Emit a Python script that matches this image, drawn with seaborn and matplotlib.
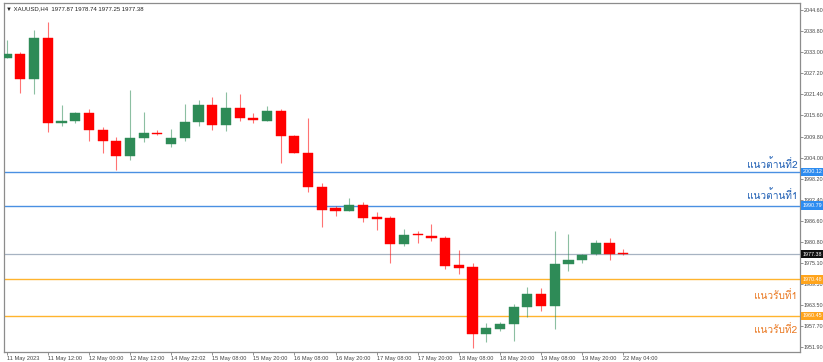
import matplotlib
matplotlib.use('Agg')
import matplotlib.pyplot as plt
import matplotlib.transforms as mtransforms
from matplotlib import font_manager
from matplotlib.ft2font import FT2Font
import numpy as np
import pandas as pd
import seaborn as sns

# XAUUSD H4 candles
opens = [2031.5, 2032.4, 2025.5, 2036.8, 2013.5, 2014.0, 2016.3, 2011.5, 2008.7, 2004.5,
         2009.4, 2010.9, 2007.8, 2009.4, 2013.8, 2018.4, 2013.0, 2017.6, 2015.0, 2014.2,
         2016.8, 2009.9, 2005.3, 1995.8, 1990.0, 1989.4, 1991.0, 1987.7, 1987.3, 1980.2,
         1982.9, 1982.4, 1982.0, 1974.4, 1973.9, 1955.6, 1956.8, 1958.1, 1962.9, 1966.5,
         1963.3, 1974.6, 1975.8, 1977.6, 1980.6, 1977.87]
highs = [2036.3, 2033.1, 2039.1, 2041.4, 2018.4, 2016.5, 2017.5, 2012.4, 2009.8, 2022.5,
         2016.5, 2011.5, 2011.9, 2018.8, 2019.9, 2020.8, 2022.0, 2021.4, 2016.3, 2018.2,
         2017.5, 2010.1, 2014.9, 1996.9, 1990.7, 1992.9, 1991.9, 1988.9, 1988.0, 1984.3,
         1983.8, 1985.8, 1982.4, 1978.6, 1974.9, 1958.5, 1958.8, 1963.6, 1968.4, 1968.0,
         1983.8, 1982.9, 1977.6, 1981.3, 1982.0, 1978.74]
lows = [2031.3, 2021.8, 2021.6, 2011.0, 2012.6, 2013.6, 2008.5, 2005.3, 2000.6, 2003.4,
        2008.2, 2010.1, 2007.0, 2008.5, 2012.8, 2011.7, 2011.3, 2014.2, 2013.5, 2014.0,
        2002.4, 2005.2, 1994.4, 1985.0, 1988.0, 1989.2, 1986.4, 1984.0, 1975.0, 1979.7,
        1980.6, 1981.1, 1973.3, 1971.9, 1951.6, 1953.4, 1956.2, 1953.6, 1960.1, 1961.9,
        1956.8, 1972.8, 1975.1, 1977.2, 1975.8, 1977.25]
closes = [2032.4, 2025.5, 2036.8, 2013.5, 2014.2, 2016.3, 2011.5, 2008.5, 2004.5, 2009.4,
          2010.8, 2010.4, 2009.4, 2013.9, 2018.4, 2013.0, 2017.6, 2014.9, 2014.3, 2016.8,
          2009.9, 2005.3, 1995.8, 1989.6, 1989.4, 1991.0, 1987.5, 1987.1, 1980.1, 1982.7,
          1982.6, 1982.0, 1974.2, 1973.7, 1955.6, 1957.0, 1958.1, 1962.9, 1966.5, 1963.3,
          1974.6, 1975.8, 1977.2, 1980.6, 1977.6, 1977.38]

time_labels = ['11 May 2023', '11 May 12:00', '12 May 00:00', '12 May 12:00', '14 May 22:02',
               '15 May 08:00', '15 May 20:00', '16 May 08:00', '16 May 20:00', '17 May 08:00',
               '17 May 20:00', '18 May 08:00', '18 May 20:00', '19 May 08:00', '19 May 20:00',
               '22 May 04:00']
price_ticks = [2044.60, 2038.80, 2033.00, 2027.20, 2021.40, 2015.60, 2009.80, 2004.00, 1998.20,
               1992.40, 1986.60, 1980.80, 1975.10, 1969.30, 1963.50, 1957.70, 1951.90]

resistance = [2000.12, 1990.79]
support = [1970.48, 1960.45]
last_price = 1977.38
level_names = ['แนวต้านที่2', 'แนวต้านที่1', 'แนวรับที่1', 'แนวรับที่2']
level_text_y = [2001.2, 1992.6, 1965.1, 1955.7]

sns.set_style('white')


def thai_font():
    for f in font_manager.fontManager.ttflist:
        try:
            if 0x0E41 in FT2Font(f.fname).get_charmap():
                return f.name
        except Exception:
            pass
    return 'DejaVu Sans'


small = ['Liberation Sans', 'DejaVu Sans']
plt.rcParams['font.family'] = small

df = pd.DataFrame({'open': opens, 'high': highs, 'low': lows, 'close': closes})
df['i'] = np.arange(len(df))
df['up'] = df['close'] > df['open']

GREEN = '#2e8b57'
RED = '#ff0000'

fig = plt.figure(figsize=(8.23, 3.62), dpi=100)
ax = fig.add_axes([4 / 823, 10 / 362, 796 / 823, 349 / 362])

colors = np.where(df['up'], GREEN, RED)
ax.vlines(df['i'], df['low'], df['high'], colors=colors, lw=0.8, alpha=0.55, zorder=2)
body_low = np.minimum(df['open'], df['close'])
body_h = np.maximum((df['close'] - df['open']).abs(), 0.35)
ax.bar(df['i'], body_h, bottom=body_low, width=0.74, color=colors,
       edgecolor=colors, linewidth=0.3, zorder=3)

# support / resistance lines
for lv in resistance:
    ax.axhline(lv, color='#4a90e2', lw=1.0, zorder=1)
for lv in support:
    ax.axhline(lv, color='#ffb42e', lw=1.0, zorder=1)
ax.axhline(last_price, color='#a7b3c2', lw=0.9, zorder=1)

tfont = [thai_font(), 'DejaVu Sans']
name_colors = ['#1f5fb4', '#1f5fb4', '#ea7a24', '#ea7a24']
for name, yv, c in zip(level_names, level_text_y, name_colors):
    ax.text(0.9965, yv, name, transform=ax.get_yaxis_transform(), ha='right', va='baseline',
            fontsize=7.3, color=c, family=tfont, zorder=4)

# price tags on the axis
trans = mtransforms.blended_transform_factory(ax.transAxes, ax.transData)
tags = [(resistance[0], '#2d8cf0'), (resistance[1], '#2d8cf0'), (last_price, '#111111'),
        (support[0], '#ffa41c'), (support[1], '#ffa41c')]
for lv, c in tags:
    ax.text(1.003, lv, '{:.2f}'.format(lv), transform=trans, ha='left', va='center',
            fontsize=3.9, color='white', clip_on=False, zorder=5,
            bbox=dict(boxstyle='square,pad=0.3', fc=c, ec='none'))

ax.text(0.002, 0.984, '▼ XAUUSD,H4  1977.87 1978.74 1977.25 1977.38', transform=ax.transAxes,
        ha='left', va='center', fontsize=4.3, color='#222222')

ax.set_xlim(-0.197, 57.9)
ax.set_ylim(1950.52, 2046.53)

ax.yaxis.tick_right()
ax.set_yticks(price_ticks)
ax.set_yticklabels(['{:.2f}'.format(v) for v in price_ticks])
ax.set_xticks(np.arange(0, len(df), 3))
ax.set_xticklabels(time_labels)
for lab in ax.get_xticklabels():
    lab.set_ha('left')
ax.tick_params(axis='y', which='both', right=True, left=False, length=2, width=0.6,
               colors='#808080', labelcolor='#444444', labelsize=3.9, pad=0.5)
ax.tick_params(axis='x', bottom=True, length=2, width=0.6, colors='#808080',
               labelcolor='#444444', labelsize=4.1, pad=1)

for s in ax.spines.values():
    s.set_visible(True)
    s.set_color('#8c8c8c')
    s.set_linewidth(0.9)

ax.set_xlabel('')
ax.set_ylabel('')

fig.savefig('out.png', dpi=100)
